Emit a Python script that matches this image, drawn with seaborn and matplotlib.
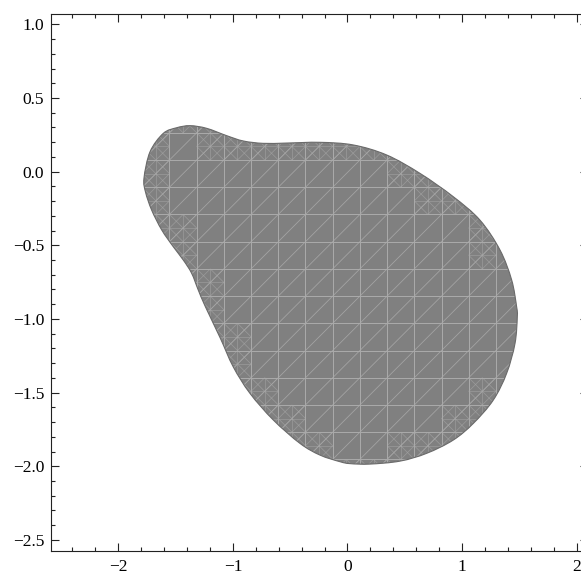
import numpy as np
import pandas as pd
import matplotlib
matplotlib.use("Agg")
import matplotlib.pyplot as plt
import seaborn as sns
from matplotlib.patches import PathPatch
from matplotlib.collections import LineCollection
from matplotlib.path import Path
from matplotlib.ticker import MultipleLocator

# ---- region boundary, clockwise from leftmost point ----
boundary_x = [-1.776, -1.723, -1.607, -1.490, -1.374, -1.229, -1.054, -0.909, -0.735,
              -0.531, -0.240, 0.051, 0.342, 0.633, 0.923, 1.156, 1.331, 1.433, 1.476,
              1.482, 1.462, 1.389, 1.272, 1.098, 0.923, 0.691, 0.458, 0.196, 0.022,
              -0.065, -0.240, -0.414, -0.647, -0.851, -0.997, -1.110, -1.240, -1.302,
              -1.360, -1.433, -1.520, -1.621, -1.709, -1.762]
boundary_y = [-0.045, 0.135, 0.260, 0.298, 0.312, 0.294, 0.244, 0.208, 0.192,
              0.194, 0.199, 0.181, 0.113, -0.012, -0.170, -0.329, -0.532, -0.736, -0.917,
              -0.985, -1.166, -1.369, -1.551, -1.709, -1.822, -1.912, -1.965, -1.985, -1.982,
              -1.969, -1.924, -1.845, -1.686, -1.505, -1.325, -1.130, -0.917, -0.804,
              -0.690, -0.600, -0.510, -0.396, -0.261, -0.140]

x_major_ticks = [-2, -1, 0, 1, 2]
y_major_ticks = [-2.5, -2.0, -1.5, -1.0, -0.5, 0.0, 0.5, 1.0]
x_tick_labels = ["\u22122", "\u22121", "0", "1", "2"]
y_tick_labels = ["\u22122.5", "\u22122.0", "\u22121.5", "\u22121.0", "\u22120.5", "0.0", "0.5", "1.0"]

df = pd.DataFrame({"x": boundary_x, "y": boundary_y})

sns.set_style("ticks")
plt.rcParams["font.family"] = ["Liberation Serif", "DejaVu Serif"]
plt.rcParams["font.size"] = 12.5

W, H = 581, 572
fig = plt.figure(figsize=(W / 100, H / 100), dpi=100)
ax = fig.add_axes([50.7 / W, (H - 550.7) / H, (588 - 50.7) / W, (550.7 - 14) / H])
ax.set_xlim(-2.590, 2.099)
ax.set_ylim(-2.573, 1.070)

fill_col = "#808080"
mesh_col = "#a9a9a9"

# smooth closed curve through the boundary points (Bezier path drawn by matplotlib)
P = df[["x", "y"]].to_numpy()
n = len(P)
verts = [P[0]]
codes = [Path.MOVETO]
for i in range(n):
    p0, p1, p2, p3 = P[i - 1], P[i], P[(i + 1) % n], P[(i + 2) % n]
    verts += [p1 + (p2 - p0) / 6.0, p2 - (p3 - p1) / 6.0, p2]
    codes += [Path.CURVE4] * 3
verts.append(P[0])
codes.append(Path.CLOSEPOLY)
shape = Path(np.array(verts), codes)

poly = PathPatch(shape, facecolor=fill_col, edgecolor="none", zorder=1)
ax.add_patch(poly)

# mesh texture (rendering seams), clipped to region
gx0, gdx = -1.316, 0.2374
gy0, gdy = 0.0788, 0.1847
xs = gx0 + gdx * np.arange(-10, 12)
ys = gy0 + gdy * np.arange(-16, 8)
segs = []
for xv in xs:
    segs.append([(xv, -3), (xv, 2)])
for yv in ys:
    segs.append([(-3, yv), (3, yv)])
lc = LineCollection(segs, colors=mesh_col, linewidths=0.75, zorder=2)
ax.add_collection(lc)
lc.set_clip_path(poly)

dsegs = []
for k in range(-40, 40):
    bx, by = gx0 + k * gdx, gy0
    dsegs.append([(bx - 30 * gdx, by - 30 * gdy), (bx + 30 * gdx, by + 30 * gdy)])
dlc = LineCollection(dsegs, colors=mesh_col, linewidths=0.6, alpha=0.85, zorder=2)
ax.add_collection(dlc)
dlc.set_clip_path(poly)

# refinement near boundary
flat = shape.to_polygons()[0]
fpath = Path(flat)
rsegs = []
for xv in xs[:-1]:
    for yv in ys[:-1]:
        corners = np.array([[xv, yv], [xv + gdx, yv], [xv, yv + gdy], [xv + gdx, yv + gdy],
                            [xv + gdx / 2, yv + gdy / 2]])
        ins = fpath.contains_points(corners)
        if ins.any() and not ins[:4].all():
            hx, hy = gdx / 2, gdy / 2
            rsegs.append([(xv + hx, yv), (xv + hx, yv + gdy)])
            rsegs.append([(xv, yv + hy), (xv + gdx, yv + hy)])
            for sx in (xv, xv + hx):
                for sy in (yv, yv + hy):
                    rsegs.append([(sx, sy + hy), (sx + hx, sy)])
                    rsegs.append([(sx, sy), (sx + hx, sy + hy)])
rlc = LineCollection(rsegs, colors=mesh_col, linewidths=0.55, alpha=0.6, zorder=2)
ax.add_collection(rlc)
rlc.set_clip_path(poly)

outline = PathPatch(shape, facecolor="none", edgecolor="#6a6a6a", linewidth=0.8, zorder=3)
ax.add_patch(outline)

ax.set_xticks(x_major_ticks)
ax.set_xticklabels(x_tick_labels)
ax.set_yticks(y_major_ticks)
ax.set_yticklabels(y_tick_labels)
ax.xaxis.set_minor_locator(MultipleLocator(0.2))
ax.yaxis.set_minor_locator(MultipleLocator(0.1))
ax.tick_params(which="both", direction="in", top=True, right=True, color="#222222",
               width=0.8, labelsize=12.5, labelcolor="black")
ax.tick_params(which="major", length=5.5)
ax.tick_params(which="minor", length=2.9)
ax.tick_params(axis="x", pad=6)
ax.tick_params(axis="y", pad=4.6)
for s in ax.spines.values():
    s.set_visible(True)
    s.set_linewidth(0.8)
    s.set_color("#222222")

fig.savefig("out.png", dpi=100)
